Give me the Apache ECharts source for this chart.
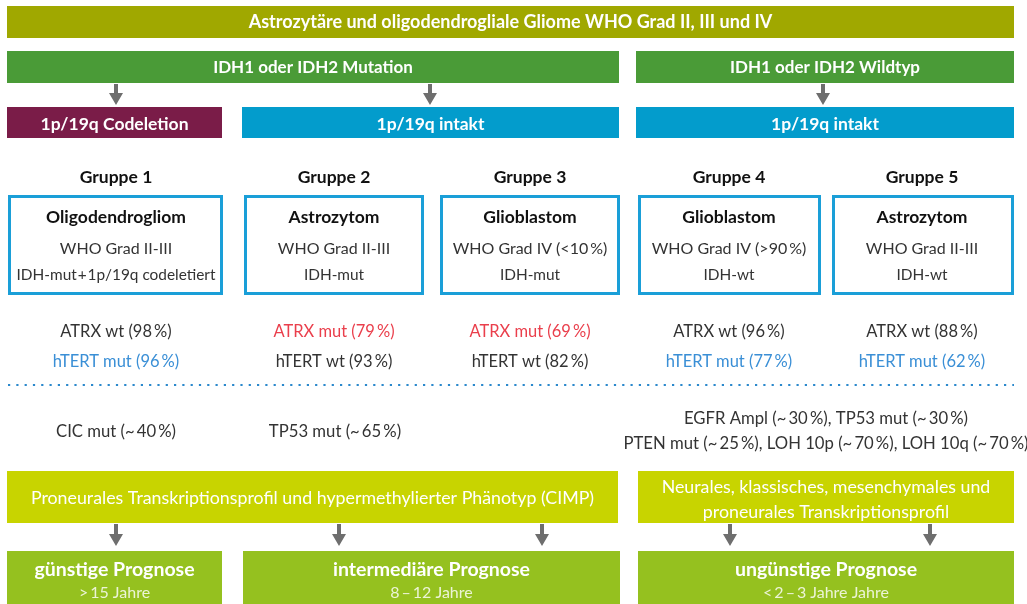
<!DOCTYPE html>
<html>
<head>
<meta charset="utf-8">
<script src="https://cdn.jsdelivr.net/npm/echarts@6/dist/echarts.min.js"></script>
<style>
  html, body { margin: 0; padding: 0; background: #fff; }
  #chart { width: 1027px; height: 604px; }
</style>
</head>
<body>
<div id="chart"></div>
<script>
// --- content ---
const titleText = 'Astrozytäre und oligodendrogliale Gliome WHO Grad II, III und IV';
const idhBranches = ['IDH1 oder IDH2 Mutation', 'IDH1 oder IDH2 Wildtyp'];
const codelBranches = ['1p/19q Codeletion', '1p/19q intakt', '1p/19q intakt'];
const groups = ['Gruppe 1', 'Gruppe 2', 'Gruppe 3', 'Gruppe 4', 'Gruppe 5'];
const tumorTypes = ['Oligodendrogliom', 'Astrozytom', 'Glioblastom', 'Glioblastom', 'Astrozytom'];
const whoGrades = ['WHO Grad II-III', 'WHO Grad II-III', 'WHO Grad IV (<10\u2009%)', 'WHO Grad IV (>90\u2009%)', 'WHO Grad II-III'];
const idhStatus = ['IDH-mut\u200a+\u200a1p/19q codeletiert', 'IDH-mut', 'IDH-mut', 'IDH-wt', 'IDH-wt'];
const atrxLabels = ['ATRX wt (98\u2009%)', 'ATRX mut (79\u2009%)', 'ATRX mut (69\u2009%)', 'ATRX wt (96\u2009%)', 'ATRX wt (88\u2009%)'];
const atrxMutated = [false, true, true, false, false];
const htertLabels = ['hTERT mut (96\u2009%)', 'hTERT wt (93\u2009%)', 'hTERT wt (82\u2009%)', 'hTERT mut (77\u2009%)', 'hTERT mut (62\u2009%)'];
const htertMutated = [true, false, false, true, true];
const otherMarkers = [
  ['CIC mut (~\u200940\u2009%)'],
  ['TP53 mut (~\u200965\u2009%)'],
  ['EGFR Ampl (~\u200930\u2009%), TP53 mut (~\u200930\u2009%)', 'PTEN mut (~\u200925\u2009%), LOH 10p (~\u200970\u2009%), LOH 10q (~\u200970\u2009%)']
];
const profiles = [
  ['Proneurales Transkriptionsprofil und hypermethylierter Phänotyp (CIMP)'],
  ['Neurales, klassisches, mesenchymales und', 'proneurales Transkriptionsprofil']
];
const prognoses = ['günstige Prognose', 'intermediäre Prognose', 'ungünstige Prognose'];
const survival = ['>\u200915 Jahre', '8\u2009\u2013\u200912 Jahre', '<\u20092\u2009\u2013\u20093 Jahre Jahre'];

// --- layout (hidden axes in page units) ---
const W = 1027, H = 604;
const colX = [[8, 223], [244, 424], [440, 620], [638, 821], [832, 1014]];
const colMid = [116, 334, 530, 729, 922];
const titleSpan = [7, 1014];
const idhSpans = [[7, 619], [636, 1014]];
const codelSpans = [[7, 222], [242, 619], [636, 1014]];
const markerMid = [116, 335, 826];
const profileSpans = [[7, 618], [638, 1014]];
const prognSpans = [[7, 222], [243, 620], [638, 1014]];
const topArrows = [116, 430, 823];
const bottomArrows = [116, 339, 542, 730, 930];

const C = {
  olive: '#a0a800', green: '#4a9b37', maroon: '#7a1c48', blue: '#039ccc',
  frame: '#1a9fd8', lime: '#c8d400', prog: '#95c11f', arrow: '#6e6e6e',
  text: '#333333', dark: '#111111', red: '#ea3f4c', lblue: '#3a8fd6', dot: '#2a88cc'
};
const FONT = 'Lato';

const els = [];
const addRect = (x0, y0, x1, y1, fill) => els.push({ t: 'rect', x0, y0, x1, y1, fill });
const addFrame = (x0, y0, x1, y1) => els.push({ t: 'frame', x0, y0, x1, y1 });
const addText = (x, y, text, fill, size, weight) => els.push({ t: 'text', x, y, text, fill, size, weight });
const addArrow = (x, y0, y1) => els.push({ t: 'arrow', x, y0, y1 });

// title bar
addRect(titleSpan[0], 6, titleSpan[1], 38, C.olive);
addText((titleSpan[0] + titleSpan[1]) / 2, 22, titleText, '#fff', 18, 'bold');
// IDH row
idhBranches.forEach((s, i) => {
  addRect(idhSpans[i][0], 51, idhSpans[i][1], 83, C.green);
  addText((idhSpans[i][0] + idhSpans[i][1]) / 2, 68, s, '#fff', 17, 'bold');
});
topArrows.forEach(x => addArrow(x, 84, 105));
// codeletion row
codelBranches.forEach((s, i) => {
  addRect(codelSpans[i][0], 107, codelSpans[i][1], 138, i === 0 ? C.maroon : C.blue);
  addText((codelSpans[i][0] + codelSpans[i][1]) / 2, 124, s, '#fff', 17.5, 'bold');
});
// groups
groups.forEach((g, i) => {
  addText(colMid[i], 177, g, C.dark, 17.5, 'bold');
  addFrame(colX[i][0], 195, colX[i][1], 295);
  addText(colMid[i], 217, tumorTypes[i], C.dark, 17.5, 'bold');
  addText(colMid[i], 249, whoGrades[i], C.text, 16, 'normal');
  addText(colMid[i], 275, idhStatus[i], C.text, 15.4, 'normal');
  addText(colMid[i], 332, atrxLabels[i], atrxMutated[i] ? C.red : C.text, 16.5, 'normal');
  addText(colMid[i], 362, htertLabels[i], htertMutated[i] ? C.lblue : C.text, 16.5, 'normal');
});
els.push({ t: 'dots', x0: 8, x1: 1014, y: 385 });
otherMarkers.forEach((lines, i) => {
  const y0 = lines.length === 1 ? 432 : 419;
  lines.forEach((s, k) => addText(markerMid[i], y0 + k * 25, s, C.text, 16.7, 'normal'));
});
profiles.forEach((lines, i) => {
  addRect(profileSpans[i][0], 471, profileSpans[i][1], 523, C.lime);
  const mid = (profileSpans[i][0] + profileSpans[i][1]) / 2;
  const y0 = lines.length === 1 ? 498 : 487;
  lines.forEach((s, k) => addText(mid, y0 + k * 25, s, '#fff', 17.8, 'normal'));
});
bottomArrows.forEach(x => addArrow(x, 524, 546));
prognoses.forEach((s, i) => {
  addRect(prognSpans[i][0], 551, prognSpans[i][1], 606, C.prog);
  const mid = (prognSpans[i][0] + prognSpans[i][1]) / 2;
  addText(mid, 570, s, '#fff', 19.5, 'bold');
  addText(mid, 593, survival[i], 'rgba(255,255,255,0.82)', 16, 'normal');
});

function renderItem(params, api) {
  const e = els[api.value(0)];
  if (e.t === 'rect' || e.t === 'frame') {
    const p0 = api.coord([e.x0, e.y0]);
    const p1 = api.coord([e.x1, e.y1]);
    if (e.t === 'rect') {
      return { type: 'rect', shape: { x: p0[0], y: p0[1], width: p1[0] - p0[0], height: p1[1] - p0[1] }, style: { fill: e.fill } };
    }
    return { type: 'rect', shape: { x: p0[0] + 1.5, y: p0[1] + 1.5, width: p1[0] - p0[0] - 3, height: p1[1] - p0[1] - 3 },
      style: { fill: 'none', stroke: C.frame, lineWidth: 3 } };
  }
  if (e.t === 'text') {
    const p = api.coord([e.x, e.y]);
    return { type: 'text', x: p[0], y: p[1], style: {
      text: e.text, fill: e.fill, align: 'center', verticalAlign: 'middle',
      fontFamily: FONT, fontSize: e.size, fontWeight: e.weight } };
  }
  if (e.t === 'arrow') {
    const a = api.coord([e.x, e.y0]);
    const b = api.coord([e.x, e.y1]);
    const headH = 12, half = 7, shaft = 2;
    return { type: 'polygon', shape: { points: [
      [a[0] - shaft, a[1]], [a[0] + shaft, a[1]], [a[0] + shaft, b[1] - headH],
      [a[0] + half, b[1] - headH], [a[0], b[1]], [a[0] - half, b[1] - headH], [a[0] - shaft, b[1] - headH]
    ] }, style: { fill: C.arrow } };
  }
  if (e.t === 'dots') {
    const a = api.coord([e.x0, e.y]);
    const b = api.coord([e.x1, e.y]);
    return { type: 'line', shape: { x1: a[0], y1: a[1], x2: b[0], y2: b[1] },
      style: { stroke: C.dot, lineWidth: 2.2, lineDash: [2.2, 6.1] } };
  }
  return null;
}

const chart = echarts.init(document.getElementById('chart'));
chart.setOption({
  animation: false,
  grid: { left: 0, right: 0, top: 0, bottom: 0 },
  xAxis: { type: 'value', min: 0, max: W, show: false },
  yAxis: { type: 'value', min: 0, max: H, inverse: true, show: false },
  series: [{
    type: 'custom',
    silent: true,
    clip: false,
    renderItem: renderItem,
    data: els.map((e, i) => [i])
  }]
});
</script>
</body>
</html>
